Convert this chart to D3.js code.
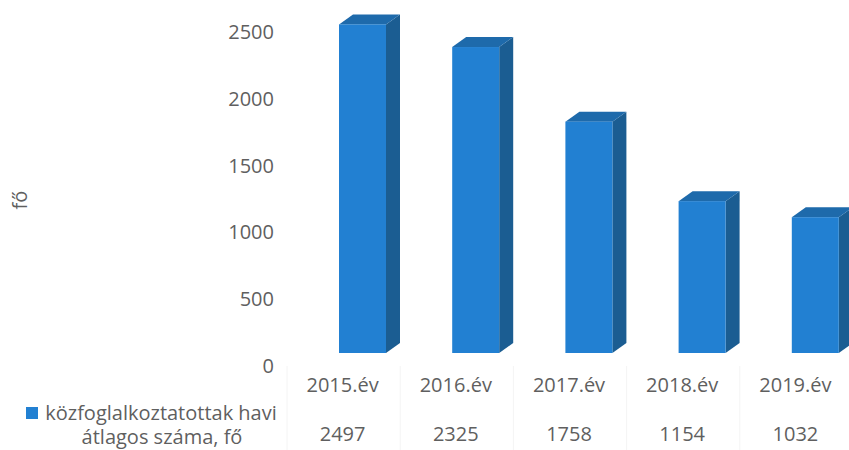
<!DOCTYPE html>
<html>
<head>
<script src="https://d3js.org/d3.v7.min.js"></script>
<style>
body { margin:0; background:#fff; }
text { font-family: "Open Sans", sans-serif; fill:#5f5f5f; }
</style>
</head>
<body>
<svg id="chart" width="849" height="450"></svg>
<script>
// data
var years = ["2015.év", "2016.év", "2017.év", "2018.év", "2019.év"];
var values = [2497, 2325, 1758, 1154, 1032];
var ticks = [0, 500, 1000, 1500, 2000, 2500];
var seriesName = ["közfoglalkoztatottak havi", "átlagos száma, fő"];

var svg = d3.select("#chart");

var x = d3.scaleBand().domain(years).range([287, 853]);
// bars front face scale
var y = d3.scaleLinear().domain([0, 2500]).range([353, 24]);
// axis labels sit on the back wall
var yAxis = d3.scaleLinear().domain([0, 2500]).range([366, 32]);

var barOff = 52, barW = 47, dx = 14, dy = -10;

// y tick labels
svg.append("g").selectAll("text")
  .data(ticks)
  .enter().append("text")
    .attr("x", 274)
    .attr("y", function(d) { return yAxis(d); })
    .attr("dy", "0.35em")
    .attr("text-anchor", "end")
    .style("font-size", "20px")
    .text(function(d) { return d; });

// axis title
svg.append("text")
  .attr("transform", "translate(20,200) rotate(-90)")
  .attr("text-anchor", "middle")
  .attr("dy", "0.35em")
  .style("font-size", "20px")
  .text("fő");

var bars = svg.append("g").selectAll("g")
  .data(values)
  .enter().append("g");

// side face
bars.append("path")
  .attr("fill", "#1b5d92")
  .attr("d", function(d, i) {
    var x0 = x(years[i]) + barOff + barW, yt = y(d), yb = y(0);
    return "M" + x0 + "," + yt + "L" + (x0 + dx) + "," + (yt + dy) +
      "L" + (x0 + dx) + "," + (yb + dy) + "L" + x0 + "," + yb + "Z";
  });

// top face
bars.append("path")
  .attr("fill", "#1e6aab")
  .attr("d", function(d, i) {
    var x0 = x(years[i]) + barOff, yt = y(d);
    return "M" + x0 + "," + yt + "L" + (x0 + dx) + "," + (yt + dy) +
      "L" + (x0 + barW + dx) + "," + (yt + dy) + "L" + (x0 + barW) + "," + yt + "Z";
  });

// front face
bars.append("rect")
  .attr("fill", "#2280d2")
  .attr("x", function(d, i) { return x(years[i]) + barOff; })
  .attr("y", function(d) { return y(d); })
  .attr("width", barW)
  .attr("height", function(d) { return y(0) - y(d); });

// data table lines
var table = svg.append("g");
table.selectAll("line")
  .data(years)
  .enter().append("line")
    .attr("x1", function(d) { return x(d); })
    .attr("x2", function(d) { return x(d); })
    .attr("y1", 366)
    .attr("y2", 450)
    .attr("stroke", "#f4f4f4");

// category labels
table.selectAll(".cat")
  .data(years)
  .enter().append("text")
    .attr("class", "cat")
    .attr("x", function(d) { return x(d) + x.bandwidth() / 2 - 1; })
    .attr("y", 392)
    .attr("text-anchor", "middle")
    .style("font-size", "20px")
    .text(function(d) { return d; });

// values row
table.selectAll(".val")
  .data(values)
  .enter().append("text")
    .attr("class", "val")
    .attr("x", function(d, i) { return x(years[i]) + x.bandwidth() / 2 - 1; })
    .attr("y", 441)
    .attr("text-anchor", "middle")
    .style("font-size", "20px")
    .text(function(d) { return d; });

// legend key
svg.append("rect")
  .attr("x", 26).attr("y", 407)
  .attr("width", 12).attr("height", 12)
  .attr("fill", "#2280d2");

svg.append("text")
  .attr("text-anchor", "middle")
  .style("font-size", "20px")
  .selectAll("tspan")
  .data(seriesName)
  .enter().append("tspan")
    .attr("x", function(d, i) { return i === 0 ? 161 : 162; })
    .attr("y", function(d, i) { return 420 + i * 24; })
    .text(function(d) { return d; });
</script>
</body>
</html>
